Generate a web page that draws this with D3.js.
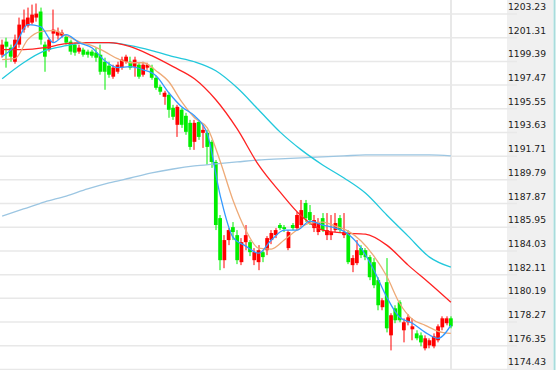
<!DOCTYPE html>
<html>
<head>
<meta charset="utf-8">
<script src="https://cdn.jsdelivr.net/npm/d3@7"></script>
<style>
  body { margin: 0; background: #fff; }
  svg { display: block; }
</style>
</head>
<body>
<div id="chart"></div>
<script>
window.onload = start;

// candle data, one entry per bar (oldest first)
const opens = [1199.93, 1200.99, 1200.50, 1199.36, 1200.75, 1201.96, 1202.29, 1202.53, 1202.94, 1203.43,
  1200.75, 1200.34, 1201.64, 1201.48, 1201.48, 1201.39, 1200.99, 1200.75, 1200.18, 1200.34,
  1200.18, 1200.18, 1200.10, 1199.93, 1199.36, 1199.04, 1198.15, 1198.55, 1198.88, 1199.36,
  1199.36, 1198.96, 1199.12, 1198.31, 1198.88, 1198.88, 1198.06, 1197.33, 1196.52, 1196.68,
  1195.63, 1194.25, 1195.47, 1194.98, 1194.41, 1192.87, 1194.49, 1193.60, 1193.60, 1192.87,
  1191.24, 1186.69, 1183.28, 1184.91, 1185.96, 1185.31, 1183.12, 1184.74, 1184.74, 1183.28,
  1183.12, 1183.93, 1184.09, 1184.91, 1185.31, 1186.13, 1185.96, 1184.26, 1186.13, 1185.88,
  1186.13, 1187.91, 1187.18, 1185.88, 1185.56, 1186.69, 1185.31, 1185.31, 1185.72, 1186.69,
  1185.31, 1185.48, 1182.88, 1183.04, 1184.26, 1184.09, 1183.53, 1183.12, 1181.66, 1179.47,
  1181.50, 1177.19, 1179.38, 1179.87, 1177.60, 1178.25, 1177.68, 1177.35, 1177.19, 1176.14,
  1176.38, 1176.30, 1176.79, 1177.84, 1178.17, 1178.57];
const highs = [1201.15, 1201.31, 1200.75, 1201.56, 1202.94, 1203.59, 1203.75, 1203.99, 1204.08, 1203.75,
  1200.99, 1201.31, 1203.59, 1202.13, 1201.96, 1201.56, 1201.15, 1200.91, 1200.75, 1200.50,
  1200.34, 1200.34, 1200.50, 1200.75, 1199.69, 1199.36, 1199.12, 1199.36, 1199.77, 1199.93,
  1199.77, 1199.77, 1199.28, 1199.36, 1199.28, 1199.12, 1198.23, 1197.50, 1197.01, 1196.85,
  1195.87, 1195.87, 1195.63, 1195.22, 1194.65, 1194.65, 1194.65, 1194.25, 1193.84, 1193.03,
  1191.40, 1186.94, 1185.31, 1185.88, 1186.37, 1185.72, 1185.07, 1186.13, 1184.91, 1184.26,
  1184.50, 1184.09, 1185.23, 1185.72, 1185.88, 1186.29, 1186.13, 1185.72, 1186.29, 1187.18,
  1188.16, 1188.16, 1187.75, 1186.94, 1186.69, 1187.10, 1187.10, 1186.94, 1187.10, 1186.94,
  1187.10, 1185.72, 1183.69, 1184.91, 1184.50, 1184.26, 1183.69, 1183.45, 1181.90, 1180.20,
  1183.45, 1178.98, 1179.63, 1180.03, 1178.57, 1178.90, 1178.57, 1177.60, 1177.43, 1177.19,
  1176.95, 1177.35, 1178.08, 1178.73, 1178.73, 1178.73];
const lows = [1199.69, 1198.88, 1199.36, 1199.20, 1200.50, 1201.72, 1202.13, 1202.37, 1202.61, 1200.75,
  1198.55, 1200.18, 1200.91, 1201.15, 1201.31, 1200.75, 1199.93, 1199.85, 1200.01, 1199.77,
  1199.69, 1199.69, 1199.36, 1198.31, 1197.09, 1198.06, 1197.98, 1198.39, 1198.71, 1199.20,
  1198.71, 1198.15, 1197.98, 1198.15, 1198.71, 1197.90, 1197.09, 1196.68, 1195.87, 1194.82,
  1194.65, 1193.27, 1194.00, 1193.44, 1192.22, 1192.22, 1193.03, 1192.38, 1191.00, 1190.76,
  1185.72, 1182.47, 1182.63, 1184.50, 1184.91, 1182.96, 1182.88, 1184.09, 1183.61, 1182.88,
  1182.47, 1183.12, 1183.69, 1184.58, 1185.07, 1185.72, 1185.56, 1184.09, 1185.72, 1185.72,
  1185.88, 1186.37, 1186.13, 1185.56, 1185.31, 1185.56, 1184.91, 1184.91, 1185.56, 1185.48,
  1185.07, 1182.96, 1182.31, 1182.88, 1183.45, 1183.28, 1181.66, 1181.01, 1179.22, 1179.22,
  1177.43, 1175.97, 1178.17, 1178.25, 1176.62, 1178.00, 1176.79, 1176.79, 1176.30, 1175.97,
  1176.14, 1176.14, 1176.62, 1177.60, 1178.00, 1177.76];
const closes = [1200.75, 1200.58, 1199.77, 1201.15, 1202.37, 1202.78, 1202.94, 1203.18, 1203.26, 1201.15,
  1199.77, 1201.15, 1201.96, 1201.80, 1201.72, 1200.91, 1200.18, 1200.10, 1200.50, 1199.93,
  1199.93, 1199.85, 1199.69, 1198.55, 1198.55, 1198.31, 1198.88, 1199.12, 1199.53, 1199.77,
  1198.88, 1199.53, 1198.15, 1199.12, 1199.12, 1198.06, 1197.25, 1196.93, 1196.85, 1195.47,
  1194.90, 1195.71, 1194.25, 1193.68, 1192.46, 1194.41, 1193.27, 1193.84, 1192.46, 1191.24,
  1186.13, 1183.28, 1184.91, 1185.72, 1185.56, 1183.28, 1184.74, 1185.31, 1183.93, 1183.93,
  1184.09, 1183.53, 1185.07, 1185.48, 1185.72, 1185.88, 1185.80, 1185.56, 1185.88, 1186.94,
  1187.34, 1186.69, 1186.53, 1186.53, 1186.29, 1185.72, 1185.72, 1185.56, 1186.29, 1185.72,
  1185.56, 1183.12, 1183.45, 1184.09, 1183.69, 1183.53, 1181.90, 1181.25, 1179.63, 1180.03,
  1177.76, 1178.82, 1178.41, 1178.41, 1178.25, 1178.65, 1177.92, 1176.95, 1176.62, 1176.95,
  1176.79, 1177.11, 1177.92, 1178.57, 1178.57, 1177.92];

// moving averages, one value every FAST_STEP / SLOW_STEP bars
const FAST_STEP = 3;
const SLOW_STEP = 5;
const maBlue = [1199.77, 1200.66, 1202.37, 1202.21, 1200.91, 1201.56, 1200.91, 1200.50, 1199.45, 1198.88,
  1198.96, 1198.71, 1198.23, 1196.85, 1195.71, 1194.98, 1193.52, 1188.56, 1185.15, 1184.42,
  1183.85, 1184.91, 1185.72, 1185.72, 1186.45, 1186.13, 1185.88, 1185.39, 1184.26, 1182.47,
  1180.28, 1178.65, 1178.17, 1177.43, 1176.95, 1178.00];
const maOrange = [1199.53, 1199.61, 1201.15, 1201.80, 1201.88, 1201.48, 1200.99, 1200.66, 1200.18, 1199.61,
  1199.28, 1199.28, 1198.63, 1197.74, 1196.12, 1194.82, 1194.00, 1191.32, 1188.16, 1185.72,
  1184.26, 1184.18, 1184.91, 1185.72, 1186.29, 1186.37, 1186.04, 1185.64, 1184.83, 1183.61,
  1181.98, 1179.79, 1178.49, 1178.00, 1177.52, 1177.35];
const maRed = [1200.34, 1200.34, 1200.50, 1200.83, 1200.91, 1200.91, 1200.58, 1199.85, 1198.96, 1197.98,
  1196.28, 1193.92, 1191.00, 1188.81, 1186.86, 1185.72, 1185.48, 1185.39, 1184.50, 1182.88,
  1181.41, 1179.87];
const maCyan = [1197.98, 1199.28, 1200.26, 1200.66, 1200.91, 1200.91, 1200.66, 1200.26, 1199.77, 1199.36,
  1198.63, 1197.25, 1195.47, 1193.68, 1192.22, 1191.00, 1189.94, 1188.72, 1186.94, 1185.23,
  1183.53, 1182.71];
const maSky = [1186.86, 1187.43, 1188.00, 1188.48, 1189.05, 1189.54, 1189.94, 1190.35, 1190.67, 1190.92,
  1191.08, 1191.24, 1191.40, 1191.49, 1191.57, 1191.65, 1191.73, 1191.81, 1191.81, 1191.81,
  1191.81, 1191.73];

// price labels on the right axis
const priceTicks = [1174.43, 1176.35, 1178.27, 1180.19, 1182.11, 1184.03, 1185.95, 1187.87,
  1189.79, 1191.71, 1193.63, 1195.55, 1197.47, 1199.39, 1201.31, 1203.23];

let width, height, axisLeft;

function start() {
	width = 557;
	height = 370;
	axisLeft = 507;   // where the grey price panel begins

	let svg = d3.select("#chart")
		.append("svg")
		.attr("width", width)
		.attr("height", height);

	let idx = d3.range(closes.length);

	let x = d3.scaleBand()
		.domain(idx)
		.range([0, 453])
		.paddingInner(0.12)
		.paddingOuter(0.06);

	let y = d3.scaleLinear()
		.domain([1174.43, 1203.23])
		.range([369.4, 14]);

	let cx = function(i) { return x(i) + x.bandwidth() / 2; };

	// grey panel behind the price labels
	svg.append("rect")
		.attr("x", axisLeft)
		.attr("y", 0)
		.attr("width", 46)
		.attr("height", height)
		.attr("fill", "#f0f0f0");
	svg.append("line")
		.attr("x1", 554.5).attr("x2", 554.5)
		.attr("y1", 0).attr("y2", height)
		.attr("stroke", "#a8dcdc")
		.attr("stroke-width", 2);

	// horizontal grid lines
	svg.append("g")
		.selectAll("line")
		.data(priceTicks)
		.enter()
		.append("line")
		.attr("x1", 0)
		.attr("x2", 517)
		.attr("y1", function(d) { return y(d); })
		.attr("y2", function(d) { return y(d); })
		.attr("stroke", "#e8e8e8")
		.attr("stroke-width", 1.5);

	// single vertical grid line near the last bar
	svg.append("line")
		.attr("x1", 451).attr("x2", 451)
		.attr("y1", 0).attr("y2", height)
		.attr("stroke", "#e8e8e8")
		.attr("stroke-width", 2);

	// price labels
	svg.append("g")
		.selectAll("text")
		.data(priceTicks)
		.enter()
		.append("text")
		.attr("x", 508)
		.attr("y", function(d) { return y(d) - 4; })
		.attr("font-family", "DejaVu Sans, Verdana, sans-serif")
		.attr("font-size", 9.2)
		.attr("fill", "#1a1a1a")
		.text(function(d) { return d.toFixed(2); });

	let up = function(i) { return closes[i] >= opens[i]; };
	let colour = function(i) { return up(i) ? "#ff0000" : "#00ee00"; };

	let candles = svg.append("g");

	// wicks (on a pixel edge so they come out soft, like the original)
	candles.selectAll("line")
		.data(idx)
		.enter()
		.append("line")
		.attr("x1", function(i) { return Math.round(cx(i)); })
		.attr("x2", function(i) { return Math.round(cx(i)); })
		.attr("y1", function(i) { return y(highs[i]); })
		.attr("y2", function(i) { return y(lows[i]); })
		.attr("stroke", colour)
		.attr("stroke-width", 1);

	// bodies
	candles.selectAll("rect")
		.data(idx)
		.enter()
		.append("rect")
		.attr("x", function(i) { return x(i); })
		.attr("width", x.bandwidth())
		.attr("y", function(i) { return y(Math.max(opens[i], closes[i])); })
		.attr("height", function(i) { return Math.max(1.5, Math.abs(y(opens[i]) - y(closes[i]))); })
		.attr("fill", colour);

	// moving average lines
	let lines = [
		{ vals: maSky, step: SLOW_STEP, color: "#9cc6e2" },
		{ vals: maCyan, step: SLOW_STEP, color: "#22c8dc" },
		{ vals: maRed, step: SLOW_STEP, color: "#ff2222" },
		{ vals: maOrange, step: FAST_STEP, color: "#eeaa77" },
		{ vals: maBlue, step: FAST_STEP, color: "#3399ff" }
	];

	lines.forEach(function(l) {
		let path = d3.line()
			.x(function(d, k) { return cx(Math.min(k * l.step, closes.length - 1)); })
			.y(function(d) { return y(d); })
			.curve(d3.curveMonotoneX);
		svg.append("path")
			.attr("d", path(l.vals))
			.attr("fill", "none")
			.attr("stroke", l.color)
			.attr("stroke-width", 1.3);
	});
}
</script>
</body>
</html>
